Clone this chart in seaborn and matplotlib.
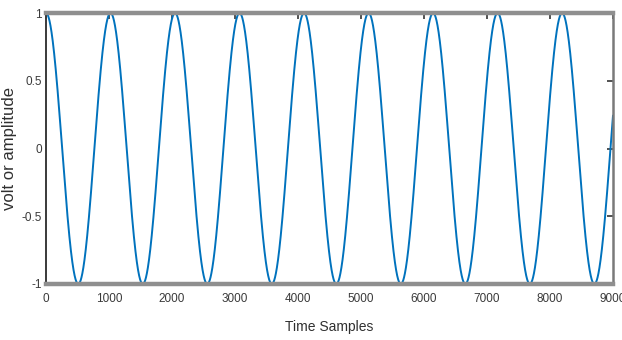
import numpy as np
import pandas as pd
import matplotlib
matplotlib.use("Agg")
import matplotlib.pyplot as plt
from matplotlib import font_manager
import seaborn as sns

# Signal description: a unit cosine tone sampled over 9000 time samples
n_samples = 9001
period_samples = 1024
amplitude = 1.0

x_ticks = [0, 1000, 2000, 3000, 4000, 5000, 6000, 7000, 8000, 9000]
y_ticks = [-1, -0.5, 0, 0.5, 1]
y_tick_labels = ["-1", "-0.5", "0", "0.5", "1"]

t = np.arange(n_samples)
signal = amplitude * np.cos(2 * np.pi * t / period_samples)
df = pd.DataFrame({"Time Samples": t, "volt or amplitude": signal})

sns.set_theme(style="white")

available = {f.name for f in font_manager.fontManager.ttflist}
narrow = "Liberation Sans Narrow" if "Liberation Sans Narrow" in available else "Liberation Sans"
plt.rcParams["font.family"] = [narrow, "DejaVu Sans"]

fig = plt.figure(figsize=(6.22, 3.40), dpi=100)
ax = fig.add_axes([46 / 622, 1 - 284 / 340, (613 - 46) / 622, (284 - 13) / 340])

sns.lineplot(data=df, x="Time Samples", y="volt or amplitude", ax=ax,
             color="#0072BD", linewidth=1.4, estimator=None, sort=False)

ax.set_xlim(0, 9000)
ax.set_ylim(-1, 1)
ax.set_xticks(x_ticks)
ax.set_xticklabels([str(v) for v in x_ticks])
ax.set_yticks(y_ticks)
ax.set_yticklabels(y_tick_labels)

ax.tick_params(axis="both", direction="in", length=4.5, width=1.2, color="#333333",
               labelsize=8.5, labelcolor="#3a3a3a", top=True, right=True)
ax.tick_params(axis="x", pad=6.5)
ax.tick_params(axis="y", pad=3)

for side in ("top", "bottom"):
    ax.spines[side].set_color("#8f8f8f")
    ax.spines[side].set_linewidth(3.2)
ax.spines["left"].set_color("#3a3a3a")
ax.spines["left"].set_linewidth(1.4)
ax.spines["right"].set_color("#7a7a7a")
ax.spines["right"].set_linewidth(1.8)
for s in ax.spines.values():
    s.set_visible(True)

ax.set_xlabel("Time Samples", fontsize=10, color="#303030", labelpad=11,
              family=[narrow, "DejaVu Sans"])
ax.set_ylabel("volt or amplitude", fontsize=12, color="#303030", labelpad=3,
              family="Liberation Sans")

fig.savefig("out.png", dpi=100, facecolor="white")
